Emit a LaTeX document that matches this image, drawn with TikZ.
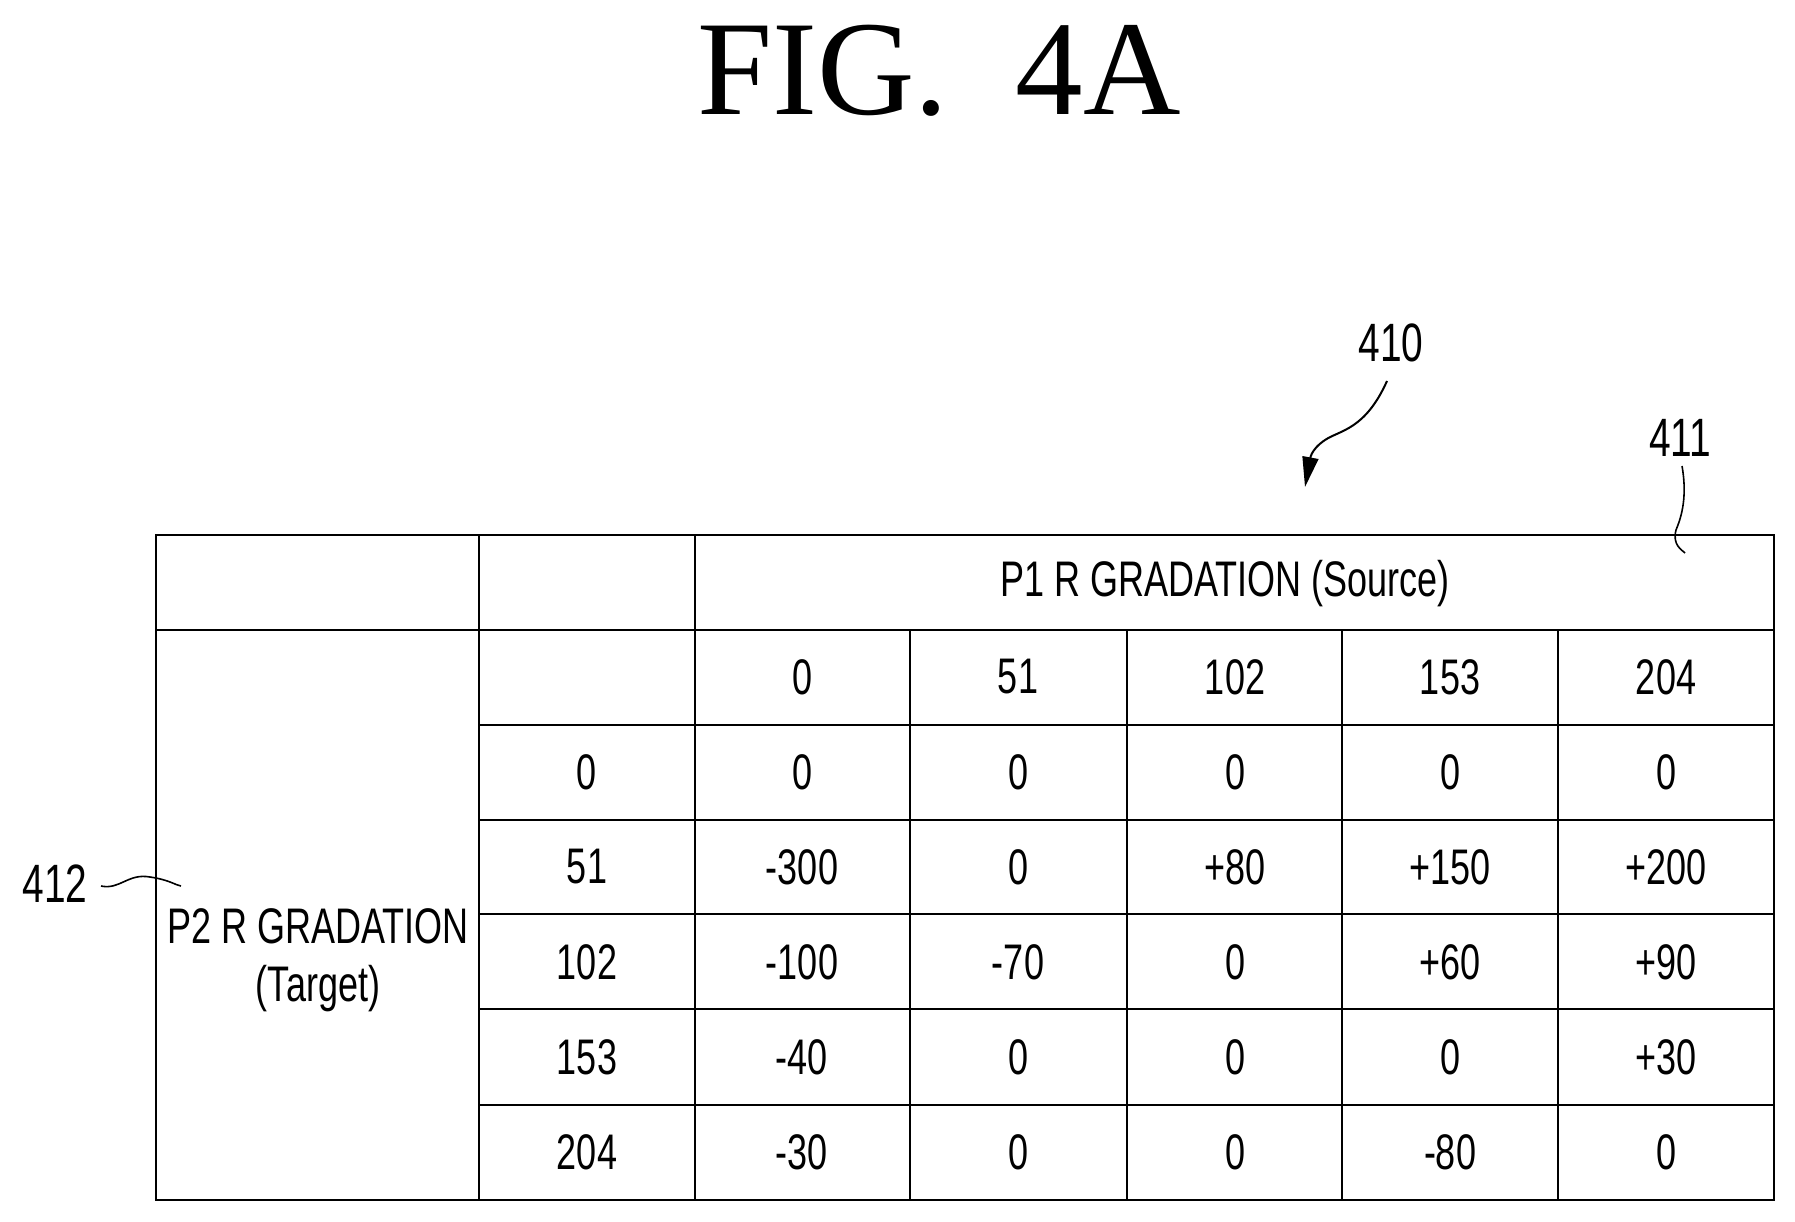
\documentclass[tikz,border=0pt]{standalone}
\usepackage{fontspec}
\setmainfont{Liberation Sans}
\newfontfamily\tabfont[FakeStretch=0.72]{Liberation Sans}
\newfontfamily\titlefont{Liberation Serif}
\usetikzlibrary{arrows.meta}
\begin{document}
\begin{tikzpicture}[x=1pt,y=-1pt,line width=2.6pt,
  cell/.style={font=\tabfont\fontsize{50}{58}\selectfont,inner sep=0pt,anchor=center},
  lbl/.style={font=\tabfont\fontsize{54}{60}\selectfont,inner sep=0pt}]
\useasboundingbox (0,0) rectangle (1795,1221);
\node[font=\titlefont\fontsize{135}{140}\selectfont,inner sep=0pt] (title) at (939,71) {FIG.\ \ 4A};
% grid
\def\xs{{156,479,695,910,1127,1342,1558,1774}}
\def\ys{{535,630,725,820,914,1009,1105,1200}}
\draw (156,535) rectangle (1774,1200);
\foreach \y in {630,725,820,914,1009,1105} \draw (479,\y) -- (1774,\y);
\draw (156,630) -- (479,630);
\draw (479,535) -- (479,1200);
\draw (695,535) -- (695,1200);
\foreach \x in {910,1127,1342,1558} \draw (\x,630) -- (\x,1200);
% header
\node[cell] (h) at (1225,584) {P1 R GRADATION (Source)};
\node[cell,align=center] (t) at (318,960) {P2 R GRADATION\\(Target)};
\foreach \v [count=\i] in {0,51,102,153,204}{
  \pgfmathsetmacro\cx{{802,1018,1235,1450,1666}[\i-1]}
  \node[cell] (c\i) at (\cx,677) {\v};
}
\foreach \v [count=\i] in {0,51,102,153,204}{
  \pgfmathsetmacro\cy{{772,867,962,1057,1152}[\i-1]}
  \node[cell] (r\i) at (587,\cy) {\v};
}
\foreach \row [count=\j] in {{0,0,0,0,0},{-300,0,+80,+150,+200},{-100,-70,0,+60,+90},{-40,0,0,0,+30},{-30,0,0,-80,0}}{
  \pgfmathsetmacro\cy{{772,867,962,1057,1152}[\j-1]}
  \foreach \v [count=\i] in \row {
    \pgfmathsetmacro\cx{{802,1018,1235,1450,1666}[\i-1]}
    \node[cell] at (\cx,\cy) {\v};
  }
}
% reference labels
\node[lbl] (l410) at (1391,343) {410};
\node[lbl] (l411) at (1680,438) {411};
\node[lbl] (l412) at (55,884) {412};
\draw[line width=2pt,-{Triangle[length=30pt,width=16pt]}] (1387,381) .. controls (1365,430) and (1340,430) .. (1325,440) .. controls (1310,450) and (1310,460) .. (1305,487);
\draw[line width=1.6pt] (1682,466) .. controls (1688,500) and (1680,520) .. (1676,530) .. controls (1672,545) and (1682,550) .. (1685,553);
\draw[line width=1.6pt] (101,886) .. controls (120,890) and (128,873) .. (150,877) .. controls (170,880) and (175,885) .. (181,886);
\end{tikzpicture}
\end{document}
